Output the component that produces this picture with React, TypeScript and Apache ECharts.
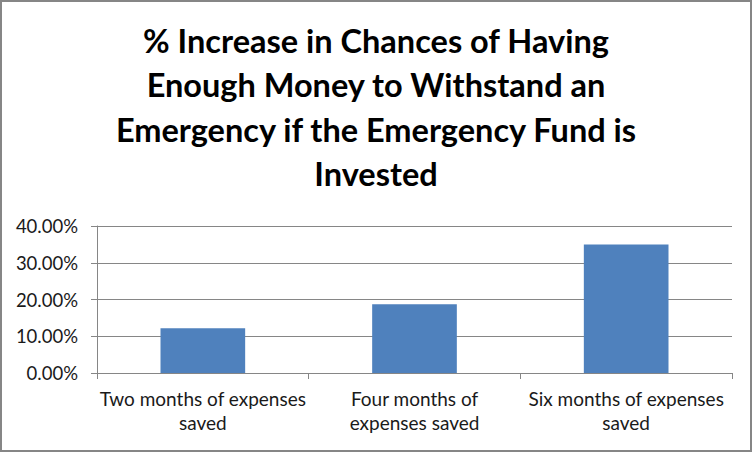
import React, { useEffect, useRef } from "react";
import * as echarts from "echarts";

const titleText = "% Increase in Chances of Having\nEnough Money to Withstand an\nEmergency if the Emergency Fund is\nInvested";
const categories = [
  "Two months of expenses\nsaved",
  "Four months of\nexpenses saved",
  "Six months of expenses\nsaved",
];
const increasePct = [12.2, 18.7, 35.0];
const yMin = 0;
const yMax = 40;
const yInterval = 10;

export default function App() {
  const ref = useRef<HTMLDivElement>(null);
  useEffect(() => {
    if (!ref.current) return;
    const chart = echarts.init(ref.current, undefined, { renderer: "svg" });
    chart.setOption({
      animation: false,
      backgroundColor: "#ffffff",
      title: {
        text: titleText,
        left: "center",
        top: 13,
        textStyle: {
          fontFamily: "Lato",
          fontWeight: "bold",
          fontSize: 32.5,
          lineHeight: 44.5,
          color: "#000000",
        },
      },
      grid: { left: 97, right: 20, top: 226, bottom: 79 },
      xAxis: {
        type: "category",
        data: categories,
        axisLine: { show: true, lineStyle: { color: "#868686", width: 1 } },
        axisTick: { show: true, alignWithLabel: false, length: 6, lineStyle: { color: "#868686" } },
        axisLabel: {
          interval: 0,
          fontFamily: "Lato",
          fontSize: 19,
          lineHeight: 24,
          color: "#1a1a1a",
          margin: 13,
        },
      },
      yAxis: {
        type: "value",
        min: yMin,
        max: yMax,
        interval: yInterval,
        axisLine: { show: true, lineStyle: { color: "#868686", width: 1 } },
        axisTick: { show: true, length: 6, lineStyle: { color: "#868686" } },
        splitLine: { show: true, lineStyle: { color: "#868686", width: 1 } },
        axisLabel: {
          fontFamily: "Lato",
          fontSize: 18.5,
          color: "#1a1a1a",
          margin: 19,
          formatter: (v: number) => v.toFixed(2) + "%",
        },
      },
      series: [
        {
          type: "bar",
          data: increasePct,
          barWidth: "40%",
          itemStyle: { color: "#4f81bd" },
        },
      ],
      graphic: [
        {
          type: "rect",
          shape: { x: 1, y: 1, width: 750, height: 450 },
          style: { fill: "none", stroke: "#868686", lineWidth: 2 },
          silent: true,
        },
      ],
    });
    return () => chart.dispose();
  }, []);
  return (
    <div
      ref={ref}
      style={{ position: "fixed", left: 0, top: 0, width: 752, height: 452 }}
    />
  );
}
